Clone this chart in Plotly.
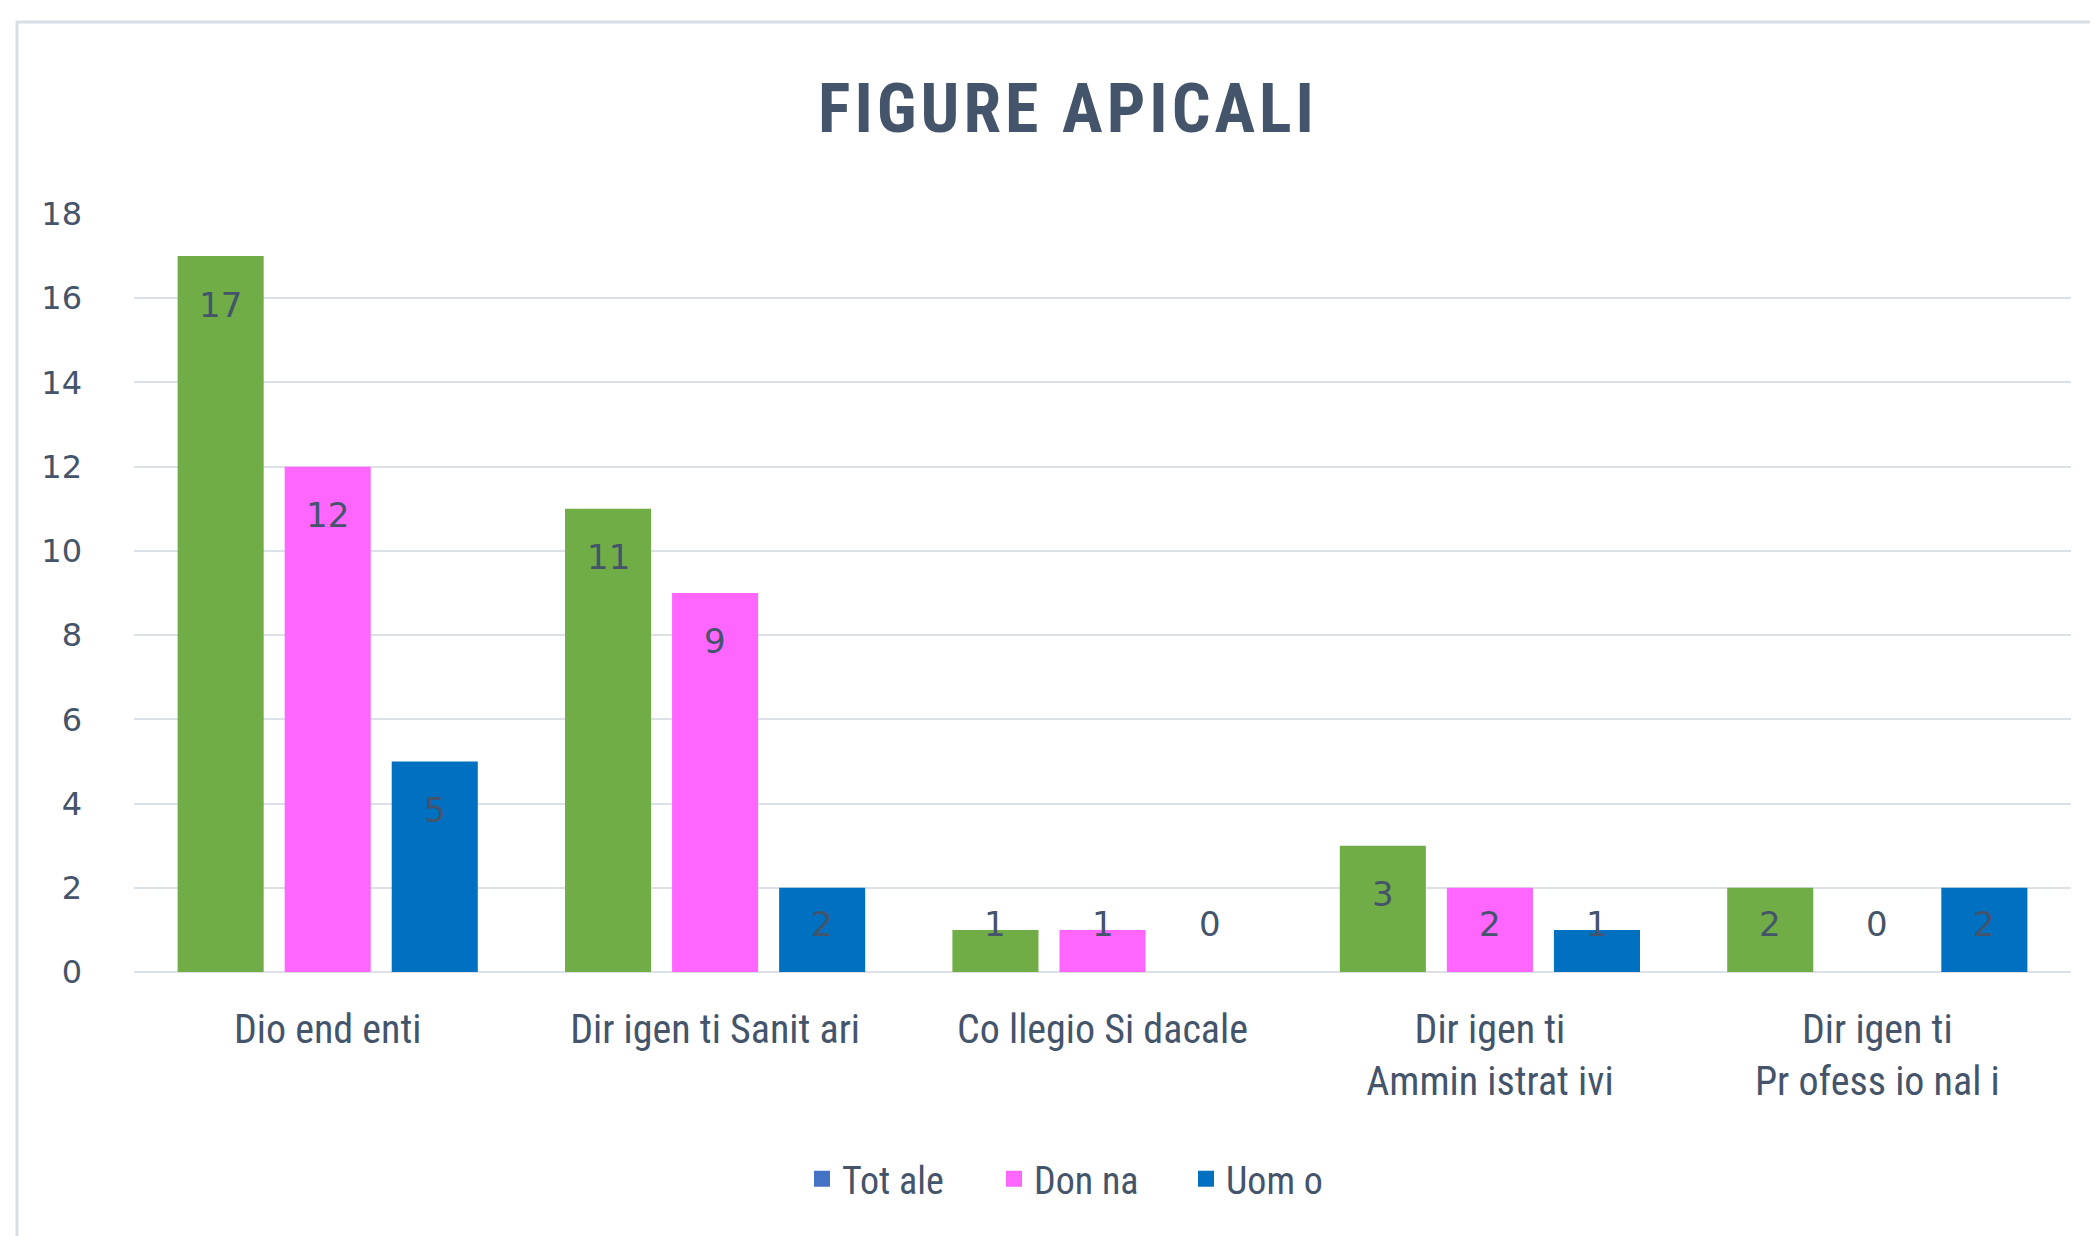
import plotly.graph_objects as go

categories = ["Dio end enti", "Dir igen ti Sanit ari", "Co llegio Si dacale",
              "Dir igen ti<br>Ammin istrat ivi", "Dir igen ti<br>Pr ofess io nal i"]
totale = [17, 11, 1, 3, 2]
donna = [12, 9, 1, 2, 0]
uomo = [5, 2, 0, 1, 2]
series_names = ["Tot ale", "Don na", "Uom o"]
bar_colors = ["#70AD47", "#FF66FF", "#0070C0"]
legend_colors = ["#4472C4", "#FF66FF", "#0070C0"]
y_ticks = [0, 2, 4, 6, 8, 10, 12, 14, 16, 18]

OFF = 8  # default page body margin
W, H = 2098 - OFF, 1236 - OFF
ML, MR, MT, MB = 134 - OFF, 27, 214 - OFF, 264
TXT = "#44546A"
NARROW = "Roboto Condensed, Liberation Sans Narrow, Arial Narrow, sans-serif"
WIDEF = "DejaVu Sans, Verdana, sans-serif"
bargap = 0.171
bargroupgap = 0.196

fig = go.Figure()
series = [totale, donna, uomo]
for i, (name, vals, col, lcol) in enumerate(zip(series_names, series, bar_colors, legend_colors)):
    fig.add_trace(go.Bar(x=categories, y=vals, marker_color=col, showlegend=False,
                         marker_line_width=0, offsetgroup=str(i), hoverinfo="x+y"))
    fig.add_trace(go.Scatter(x=[None], y=[None], name=name, mode="markers",
                             marker=dict(color=lcol, symbol="square", size=20),
                             showlegend=True))

plot_w = W - ML - MR
plot_h = H - MT - MB
slot = plot_w / len(categories) * (1 - bargap) / 3
for si, vals in enumerate(series):
    for c, v in zip(categories, vals):
        fig.add_annotation(x=c, y=max(v - 1.15, 1.15), xref="x", yref="y",
                           text=str(v), showarrow=False, xshift=(si - 1) * slot,
                           font=dict(family=WIDEF, size=34, color=TXT))

# outer chart border
fig.add_shape(type="rect", xref="paper", yref="paper",
              x0=(17 - OFF - ML) / plot_w, x1=(W + 20 - ML) / plot_w,
              y0=-0.5, y1=(H - MB - (22 - OFF)) / plot_h,
              line=dict(color="#D9DEE6", width=3), layer="below")

fig.update_layout(
    width=W, height=H,
    margin=dict(l=ML, r=MR, t=MT, b=MB),
    paper_bgcolor="white", plot_bgcolor="white",
    barmode="group", bargap=bargap, bargroupgap=bargroupgap,
    title=dict(text='<b><span style="letter-spacing:4px">FIGURE APICALI</span></b>',
               x=(1068 - OFF) / W, xanchor="center",
               y=1 - (108 - OFF) / H, yanchor="middle",
               font=dict(family=NARROW, size=68, color=TXT)),
    xaxis=dict(showgrid=False, showline=False, ticks="", ticklabelstandoff=30,
               tickfont=dict(family=NARROW, size=40, color=TXT)),
    yaxis=dict(range=[0, 18], tickvals=y_ticks, showgrid=True,
               gridcolor="#DCE1E8", gridwidth=2, zeroline=True,
               zerolinecolor="#DCE1E8", zerolinewidth=2, showline=False,
               ticks="", ticklabelstandoff=51,
               tickfont=dict(family=WIDEF, size=32, color=TXT)),
    legend=dict(orientation="h", x=(1090 - OFF) / W, xanchor="center", xref="container",
                y=1 - (1179 - OFF) / H, yref="container", yanchor="middle",
                font=dict(family=NARROW, size=38, color=TXT),
                itemwidth=30, entrywidth=147, traceorder="normal"),
    showlegend=True,
)

fig.write_html("out.html")
